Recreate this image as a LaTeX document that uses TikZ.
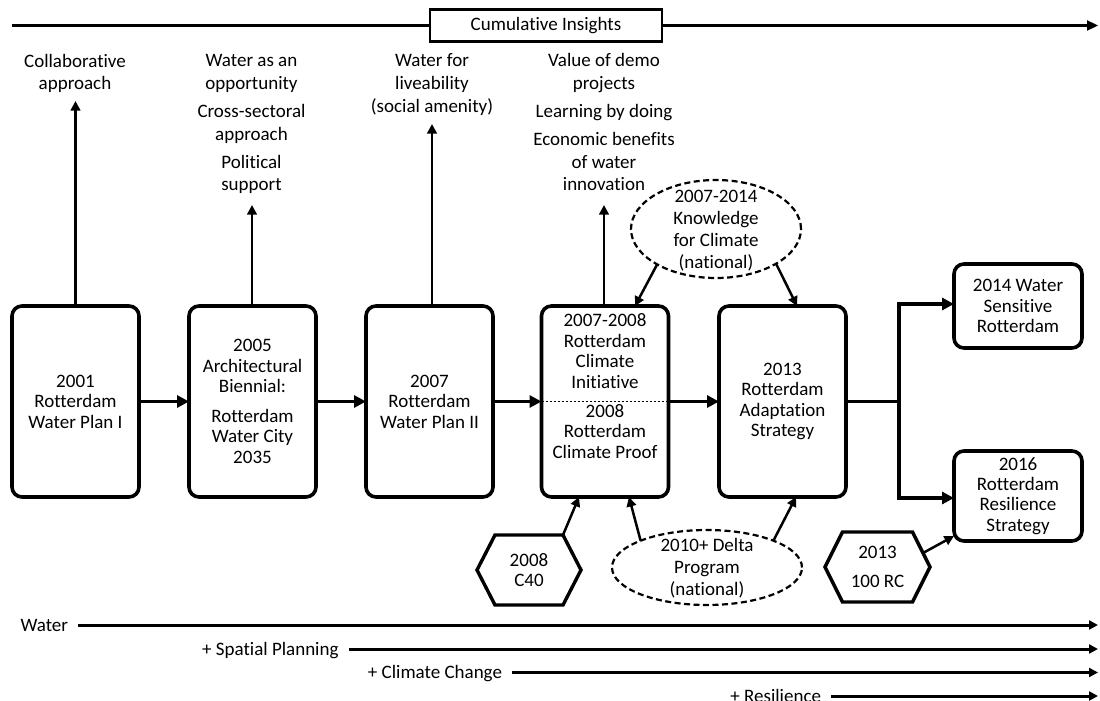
\documentclass[tikz,border=0pt]{standalone}
\usepackage{fontspec}
\setmainfont{Carlito}[Ligatures=NoCommon]
\usetikzlibrary{arrows.meta,shapes.geometric,calc}

\begin{document}
\begin{tikzpicture}[x=1pt,y=-1pt,
  every node/.style={inner sep=0pt, outer sep=0pt},
  txt/.style={font=\fontsize{19}{20.4}\selectfont, align=center},
  insight/.style={font=\fontsize{19}{22.6}\selectfont, align=center, anchor=north},
  progtext/.style={font=\fontsize{19}{22}\selectfont, align=center},
  stage/.style={txt, draw, line width=3.6pt, rounded corners=10pt, minimum width=127pt, minimum height=191pt},
  result/.style={txt, draw, line width=3.6pt, rounded corners=10pt, minimum width=128pt},
  hexnode/.style={txt, minimum width=104pt, minimum height=70pt},
  hexline/.style={line width=3.4pt, line join=miter},
  program/.style={ellipse, draw, line width=2.2pt, dash pattern=on 6pt off 3.5pt},
  flow/.style={line width=3.8pt, -{Triangle[length=12pt,width=12pt]}},
  flowline/.style={line width=3.8pt},
  feed/.style={line width=2.5pt, -{Triangle[length=9.5pt,width=9.5pt]}},
  timeline/.style={line width=3pt, -{Triangle[length=9pt,width=9pt]}},
  tlabel/.style={font=\fontsize{19}{20}\selectfont, anchor=east, text height=12pt, text depth=0pt, outer xsep=10pt}
]
\useasboundingbox (0,0) rectangle (1100,701);

% cumulative insights axis
\coordinate (topstart) at (12,24);
\coordinate (rightedge) at (1098,0);
\node[txt, draw, line width=2.2pt, minimum width=232pt, minimum height=32pt] (ci) at (546,25.5) {Cumulative Insights};
\draw[line width=2.2pt] (topstart |- ci.west) -- (ci.west);
\draw[line width=2.2pt, -{Triangle[length=11pt,width=10pt]}] (ci.east) -- (ci.east -| rightedge);

% insights gained at each stage
\node[insight] (i1) at (75,54) {Collaborative\\approach};
\node[insight] (i2) at (251.5,54.8) {Water as an\\opportunity\\[5.5pt]Cross-sectoral\\approach\\[5.5pt]Political\\support};
\node[insight] (i3) at (432,53.8) {Water for\\liveability\\(social amenity)};
\node[insight] (i4) at (604,53.8) {Value of demo\\projects\\[5.5pt]Learning by doing\\[5.5pt]Economic benefits\\of water\\innovation};

% main sequence of plans
\node[stage] (b1) at (75.5,401.5) {2001\\Rotterdam\\Water Plan I};
\node[stage] (b2) at (252.5,401.5) {2005\\Architectural\\Biennial:\\[9.5pt]Rotterdam\\Water City\\2035};
\node[stage] (b3) at (429.5,401.5) {2007\\Rotterdam\\Water Plan II};
\node[stage] (b4) at (605,401.5) {};
\node[txt] (b4up) at (605,351) {2007-2008\\Rotterdam\\Climate\\Initiative};
\node[txt] (b4low) at (605,431.5) {2008\\Rotterdam\\Climate Proof};
\node[stage] (b5) at (782.5,401.5) {2013\\Rotterdam\\Adaptation\\Strategy};
\node[result, minimum height=84pt] (b6) at (1018,306) {2014 Water\\Sensitive\\Rotterdam};
\node[result, minimum height=90pt] (b7) at (1018,496) {2016\\Rotterdam\\Resilience\\Strategy};

\draw[line width=1pt, dash pattern=on 2.5pt off 1.5pt] (b4.west) -- (b4.east);

% national programmes
\node[program, minimum width=170pt, minimum height=98pt] (kfc) at (716,229) {};
\node[progtext] (kfct) at (716,231) {2007-2014\\Knowledge\\for Climate\\(national)};
\node[program, minimum width=190pt, minimum height=75pt] (delta) at (707,567.5) {};
\node[progtext] (deltat) at (707,568.5) {2010+ Delta\\Program\\(national)};

% city networks
\node[hexnode] (c40) at (529,570) {2008\\C40};
\draw[hexline] (c40.west) -- ([xshift=18pt]c40.north west) -- ([xshift=-18pt]c40.north east)
  -- (c40.east) -- ([xshift=-18pt]c40.south east) -- ([xshift=18pt]c40.south west) -- cycle;
\node[hexnode, minimum width=105pt] (rc) at (877.5,567) {2013\\[8.7pt]100 RC};
\draw[hexline] (rc.west) -- ([xshift=17.5pt]rc.north west) -- ([xshift=-17.5pt]rc.north east)
  -- (rc.east) -- ([xshift=-17.5pt]rc.south east) -- ([xshift=17.5pt]rc.south west) -- cycle;

% sequence connectors
\draw[flow] (b1.east) -- (b2.west);
\draw[flow] (b2.east) -- (b3.west);
\draw[flow] (b3.east) -- (b4.west);
\draw[flow] (b4.east) -- (b5.west);
\coordinate (split) at (899,401.5);
\draw[flowline] (b5.east) -- (split);
\draw[flow] (split) |- ([yshift=2pt]b6.west);
\draw[flow] (split) |- ([yshift=-2pt]b7.west);

% insight arrows
\coordinate (u1) at (75.5,101);
\coordinate (u2) at (252,205);
\coordinate (u3) at (432,124);
\coordinate (u4) at (604,205);
\draw[feed] (u1 |- b1.north) -- (u1);
\draw[feed] (u2 |- b2.north) -- (u2);
\draw[feed] (u3 |- b3.north) -- (u3);
\draw[feed] (u4 |- b4.north) -- (u4);

% influences
\draw[feed] (kfc.211) -- ([xshift=30pt]b4.north);
\draw[feed] (kfc.330) -- ([xshift=14.5pt]b5.north);
\draw[feed] (delta.158) -- ([xshift=24pt]b4.south);
\draw[feed] (delta.22) -- ([xshift=13.5pt]b5.south);
\draw[feed] ([xshift=-18pt]c40.north east) -- ([xshift=-26pt]b4.south);
\draw[feed] ($(rc.east)!0.4!([xshift=-17.5pt]rc.north east)$) -- ([yshift=-40pt]b7.west);

% thematic timelines
\node[tlabel] (tw) at (78,625) {Water};
\node[tlabel] (ts) at (348.6,649) {+ Spatial Planning};
\node[tlabel] (tc) at (512,672.5) {+ Climate Change};
\node[tlabel] (tr) at (831,696) {+ Resilience};
\draw[timeline] (tw.east) -- (tw.east -| rightedge);
\draw[timeline] (ts.east) -- (ts.east -| rightedge);
\draw[timeline] (tc.east) -- (tc.east -| rightedge);
\draw[timeline] (tr.east) -- (tr.east -| rightedge);
\end{tikzpicture}
\end{document}
